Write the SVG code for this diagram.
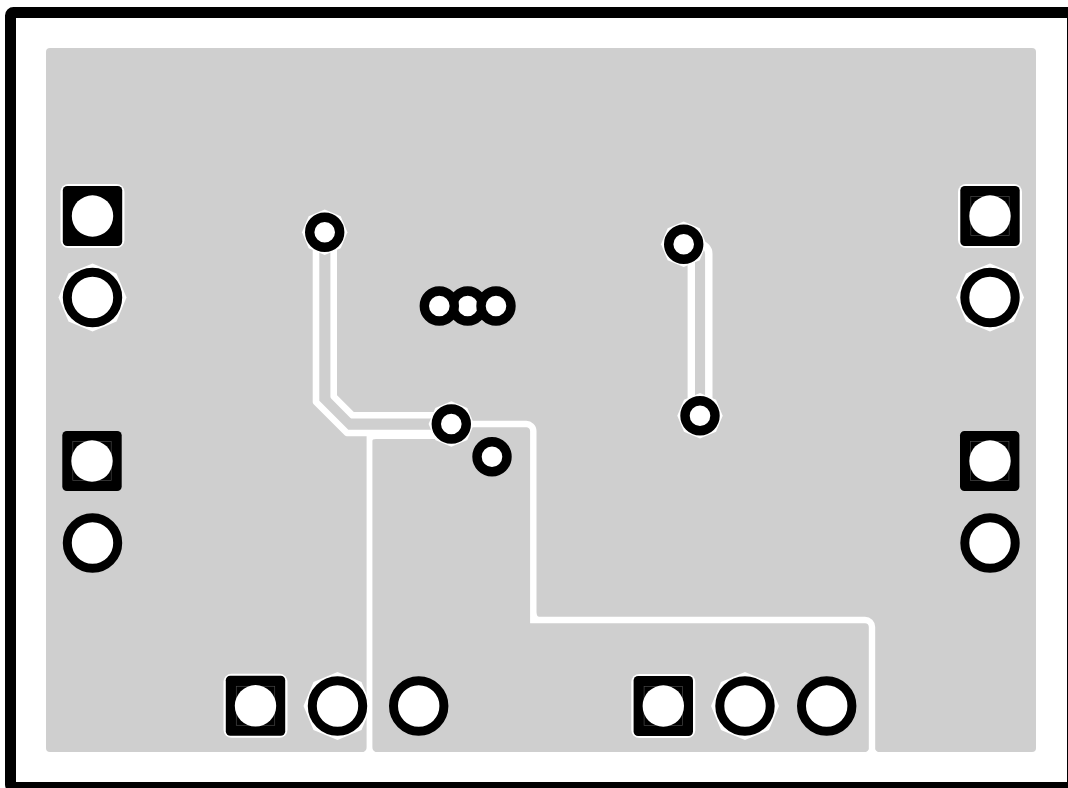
<svg xmlns="http://www.w3.org/2000/svg" width="1068" height="788" viewBox="0 0 1068 788">
<style>
.hole{fill:#fff}
.ring{fill:#fff;stroke:#000;stroke-width:9.4}
.big{fill:#fff;stroke:#000;stroke-width:9}
.pad{fill:#000}
.clear{fill:#fff}
.mark{fill:none;stroke:#484848;stroke-width:.7}
.trace{fill:none;stroke:#fff;stroke-width:6.6;stroke-linejoin:round}
.slot{fill:none;stroke:#fff;stroke-width:6.4;stroke-linejoin:miter}
.wide{fill:none;stroke:#fff;stroke-width:7.4}
.fillet{fill:#fff}
</style>
<defs>
<polygon id="oct-l" class="clear" points="0,-34 24,-24 34,0 24,24 0,34 -24,24 -34,0 -24,-24"/>
<polygon id="oct-s" class="clear" points="0,-22.700 16,-16 22.700,0 16,16 0,22.700 -16,16 -22.700,0 -16,-16"/>
<rect id="sq-clear" class="clear" x="-32" y="-32" width="64" height="64" rx="8"/>
<rect id="sq" class="pad" x="-29.700" y="-30" width="59.400" height="60" rx="4.500"/>
<rect id="sq-mark" class="mark" x="-19.200" y="-19.500" width="38.400" height="39"/>
</defs>
<rect id="background" width="1068" height="788" fill="#fff"/>
<rect id="copper" x="46" y="48" width="990" height="704" rx="4" fill="#cfcfcf"/>
<rect id="board-outline" x="10.500" y="12.500" width="1062" height="775" rx="3" fill="none" stroke="#000" stroke-width="11"/>
<g id="connectors">
<path class="trace" d="M316,232V402L347,433H451"/>
<path class="trace" d="M333.700,232V396.500L352.500,415.300H451"/>
<path class="wide" style="stroke-width:9" d="M372,434.500H451"/>
<path class="slot" style="stroke-width:5.800" d="M369.500,434V752"/>
<path class="slot" d="M451,424H526A7,7 0 0 1 533.300,431V620H865A7,7 0 0 1 872,627V752"/>
<path class="fillet" d="M536,612V617.500H541.500Q536.500,617.500 536,612Z"/>
<path class="wide" d="M684,244L691.300,252V415.700"/>
<path class="wide" d="M684,244H699A9.800,9.800 0 0 1 708.800,254V415.700"/>
<path class="fillet" d="M362,436H372V441Q372,439 376,439V436Z"/>
<path class="fillet" d="M367,752V747Q367,750 363.500,752ZM372,752V747Q372,750 375.500,752ZM869.500,752V747Q869.500,750 866,752ZM874.500,752V747Q874.500,750 878,752Z"/>
</g>
<g id="J1-1"><use href="#sq-clear" x="92.500" y="216"/><use href="#sq" x="92.500" y="216"/><circle class="hole" cx="92.500" cy="216" r="20.700"/></g>
<g id="J1-2"><use href="#oct-l" x="92.500" y="297.500"/><circle class="big" cx="92.500" cy="297.500" r="25.200"/></g>
<g id="J2-1"><use href="#sq" x="92" y="461"/><use href="#sq-mark" x="92" y="461"/><circle class="hole" cx="92" cy="461" r="20.700"/></g>
<g id="J2-2"><circle class="big" cx="92.500" cy="543" r="25.200"/></g>
<g id="J3-1"><use href="#sq-clear" x="990" y="216"/><use href="#sq" x="990" y="216"/><use href="#sq-mark" x="990" y="216"/><circle class="hole" cx="990" cy="216" r="20.700"/></g>
<g id="J3-2"><use href="#oct-l" x="990" y="297.500"/><circle class="big" cx="990" cy="297.500" r="25.200"/></g>
<g id="J4-1"><use href="#sq" x="989.700" y="461"/><use href="#sq-mark" x="989.700" y="461"/><circle class="hole" cx="990" cy="461" r="20.700"/></g>
<g id="J4-2"><circle class="big" cx="990" cy="543" r="25.200"/></g>
<g id="J5-1"><use href="#sq-clear" x="255.500" y="705.800"/><use href="#sq" x="255.500" y="705.800"/><use href="#sq-mark" x="255.500" y="705.800"/><circle class="hole" cx="255.500" cy="705.800" r="20.700"/></g>
<g id="J5-2"><use href="#oct-l" x="337.500" y="706"/><circle class="big" cx="337.500" cy="706" r="25.200"/></g>
<g id="J5-3"><circle class="big" cx="418.700" cy="706" r="25.200"/></g>
<g id="J6-1"><use href="#sq-clear" x="663.300" y="706"/><use href="#sq" x="663.300" y="706"/><use href="#sq-mark" x="663.300" y="706"/><circle class="hole" cx="663.300" cy="706" r="20.700"/></g>
<g id="J6-2"><use href="#oct-l" x="745" y="706"/><circle class="big" cx="745" cy="706" r="25.200"/></g>
<g id="J6-3"><circle class="big" cx="826.700" cy="706" r="25.200"/></g>
<g id="V1"><use href="#oct-s" x="324.700" y="232.300"/><circle class="ring" cx="324.700" cy="232.300" r="15"/></g>
<g id="V2"><use href="#oct-s" x="451.300" y="424"/><circle class="ring" cx="451.300" cy="424" r="15"/></g>
<g id="V3"><circle class="ring" cx="492" cy="456.700" r="15"/></g>
<g id="V4"><use href="#oct-s" x="683.700" y="244.300"/><circle class="ring" cx="683.700" cy="244.300" r="15"/></g>
<g id="V5"><use href="#oct-s" x="700" y="415.700"/><circle class="ring" cx="700" cy="415.700" r="15"/></g>
<g id="U1">
<circle class="ring" cx="467.700" cy="306" r="15"/>
<circle class="ring" cx="439.300" cy="306" r="15"/>
<circle class="ring" cx="496" cy="306" r="15"/>
</g>
</svg>
